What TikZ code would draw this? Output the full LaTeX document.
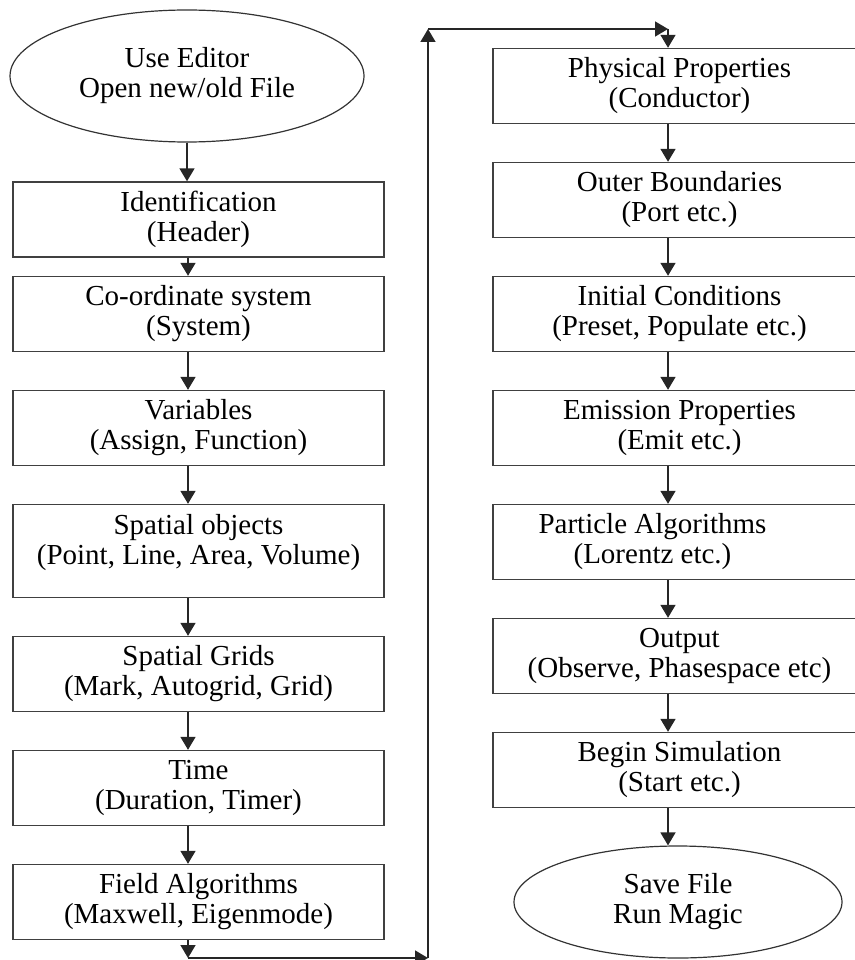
\documentclass[tikz,border=0pt]{standalone}
\usepackage{fontspec}
\setmainfont{Liberation Serif}
\usetikzlibrary{shapes.geometric,arrows.meta}
\tikzset{
  stepbox/.style={draw=black!75,line width=1.4pt,minimum width=371pt,minimum height=75pt,
    inner sep=0pt,align=center,font=\fontsize{29}{30}\selectfont},
  endcap/.style={ellipse,draw=black!80,line width=1.2pt,inner sep=0pt,align=center,
    font=\fontsize{29}{30}\selectfont},
  flow/.style={-{Triangle[width=15pt,length=13pt]},line width=1.6pt,draw=black!85,fill=black}
}
\begin{document}
\begin{tikzpicture}[x=1pt,y=-1pt]
\useasboundingbox (0,0) rectangle (854,960);
% left column
\node[endcap,minimum width=354pt,minimum height=132pt] (editor) at (187,76) {Use Editor\\Open new/old File};
\node[stepbox] (ident) at (198.5,219.5) {Identification\\(Header)};
\node[stepbox] (coord) at (198.5,314) {Co-ordinate system\\(System)};
\node[stepbox] (vars) at (198.5,428) {Variables\\(Assign, Function)};
\node[stepbox,minimum height=93pt,text depth=24pt] (objects) at (198.5,551) {Spatial objects\\(Point, Line, Area, Volume)};
\node[stepbox] (grids) at (198.5,674) {Spatial Grids\\(Mark, Autogrid, Grid)};
\node[stepbox] (time) at (198.5,788) {Time\\(Duration, Timer)};
\node[stepbox] (field) at (198.5,902) {Field Algorithms\\(Maxwell, Eigenmode)};
% right column
\node[stepbox,minimum width=373pt] (phys) at (679.5,86) {Physical Properties\\(Conductor)};
\node[stepbox,minimum width=373pt] (outer) at (679.5,200) {Outer Boundaries\\(Port etc.)};
\node[stepbox,minimum width=373pt] (init) at (679.5,314) {Initial Conditions\\(Preset, Populate etc.)};
\node[stepbox,minimum width=373pt] (emit) at (679.5,428) {Emission Properties\\(Emit etc.)};
\node[stepbox,minimum width=373pt] (particle) at (679.5,542) {};
\node[align=center,font=\fontsize{29}{30}\selectfont,inner sep=0pt] (particletext) at ([xshift=-27pt]particle.center) {Particle Algorithms\\(Lorentz etc.)};
\node[stepbox,minimum width=373pt] (output) at (679.5,656) {Output\\(Observe, Phasespace etc)};
\node[stepbox,minimum width=373pt] (begin) at (679.5,770) {Begin Simulation\\(Start etc.)};
\node[endcap,minimum width=328pt,minimum height=112pt] (save) at (678,902) {Save File\\Run Magic};
% loop-over connector
\coordinate (c1) at (188,958);
\coordinate (c2) at (428,958);
\coordinate (c3) at (428,29);
\coordinate (c4) at (668,29);
% arrows
\draw[flow] (editor.south) -- (editor.south |- ident.north);
\draw[flow] ([xshift=-10.5pt]ident.south) -- ([xshift=-10.5pt]coord.north);
\draw[flow] ([xshift=-10.5pt]coord.south) -- ([xshift=-10.5pt]vars.north);
\draw[flow] ([xshift=-10.5pt]vars.south) -- ([xshift=-10.5pt]objects.north);
\draw[flow] ([xshift=-10.5pt]objects.south) -- ([xshift=-10.5pt]grids.north);
\draw[flow] ([xshift=-10.5pt]grids.south) -- ([xshift=-10.5pt]time.north);
\draw[flow] ([xshift=-10.5pt]time.south) -- ([xshift=-10.5pt]field.north);
\draw[flow] ([xshift=-10.5pt]field.south) -- (c1);
\draw[flow] (c1) -- (c2);
\draw[flow] (c2) -- (c3);
\draw[flow] (c3) -- (c4);
\draw[flow] (c4) -- (c4 |- phys.north);
\draw[flow] ([xshift=-11.5pt]phys.south) -- ([xshift=-11.5pt]outer.north);
\draw[flow] ([xshift=-11.5pt]outer.south) -- ([xshift=-11.5pt]init.north);
\draw[flow] ([xshift=-11.5pt]init.south) -- ([xshift=-11.5pt]emit.north);
\draw[flow] ([xshift=-11.5pt]emit.south) -- ([xshift=-11.5pt]particle.north);
\draw[flow] ([xshift=-11.5pt]particle.south) -- ([xshift=-11.5pt]output.north);
\draw[flow] ([xshift=-11.5pt]output.south) -- ([xshift=-11.5pt]begin.north);
\draw[flow] ([xshift=-11.5pt]begin.south) -- (save.north -| c4);
\end{tikzpicture}
\end{document}
